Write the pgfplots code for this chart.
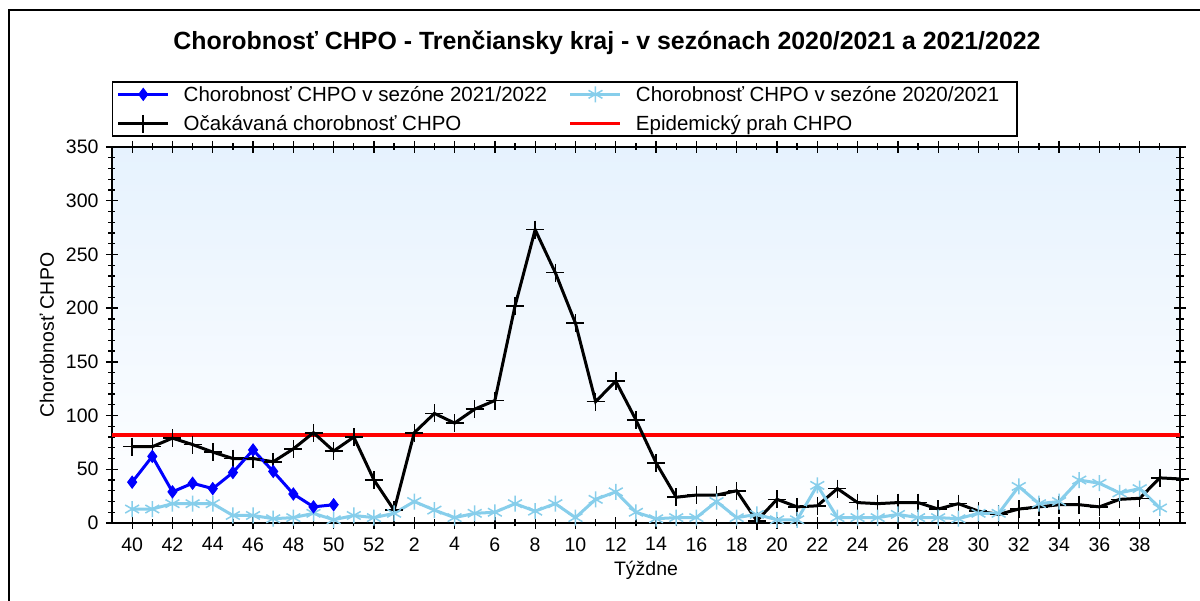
\documentclass[border=0pt]{standalone}
\usepackage{pgfplots}
\usepackage{pgfplotstable}
\pgfplotsset{compat=1.18}
\usepackage{fontspec}
\setmainfont{Liberation Sans}
\definecolor{lblue}{RGB}{135,206,235}
\definecolor{bgtop}{RGB}{230,242,254}

\pgfplotstableread{
i v
0 38
1 62
2 29
3 37
4 32
5 47
6 68
7 48
8 27
9 15
10 17
}\seasonA

\pgfplotstableread{
i v
0 13
1 13
2 18
3 18
4 18
5 7
6 7
7 4
8 5
9 9
10 3
11 7
12 5
13 9
14 20
15 12
16 5
17 9
18 10
19 18
20 11
21 18
22 5
23 22
24 29
25 10
26 4
27 5
28 5
29 20
30 5
31 8
32 3
33 3
34 35
35 5
36 5
37 5
38 8
39 5
40 5
41 4
42 9
43 9
44 34
45 18
46 20
47 40
48 37
49 28
50 32
51 14
}\seasonB

\pgfplotstableread{
i v
0 71
1 71
2 79
3 73
4 66
5 60
6 60
7 57
8 69
9 84
10 67
11 80
12 40
13 12
14 84
15 102
16 93
17 106
18 114
19 202
20 273
21 233
22 186
23 113
24 132
25 96
26 56
27 24
28 26
29 26
30 30
31 2
32 22
33 15
34 16
35 32
36 19
37 18
38 19
39 19
40 13
41 18
42 11
43 8
44 13
45 15
46 17
47 17
48 15
49 22
50 23
51 42
52 41
}\expected

\begin{document}
\begin{tikzpicture}
\begin{axis}[
  at={(0pt,0pt)}, anchor=south west,
  scale only axis, width=1068pt, height=376pt,
  xmin=-1, xmax=52, ymin=0, ymax=350,
  xtick={0,2,...,50},
  xticklabels={40,42,44,46,48,50,52,2,4,6,8,10,12,14,16,18,20,22,24,26,28,30,32,34,36,38},
  minor xtick={1,3,...,51},
  ytick={0,50,...,350},
  minor ytick={10,20,30,40,60,70,80,90,110,120,130,140,160,170,180,190,210,220,230,240,260,270,280,290,310,320,330,340},
  tick align=center,
  major tick length=12pt, minor tick length=7pt,
  tick style={black, line width=1.3pt},
  axis line style={line width=1.6pt},
  axis background/.style={shade, top color=bgtop, bottom color=white},
  /pgf/number format/assume math mode=true,
  ticklabel style={font=\fontsize{19.5}{22}\selectfont},
  xticklabel style={yshift=-5pt},
  yticklabel style={xshift=-4pt},
  xlabel={Týždne},
  ylabel={Chorobnosť CHPO},
  label style={font=\fontsize{19.5}{22}\selectfont},
  xlabel style={at={(axis description cs:0.5,-0.125)}, anchor=center},
  ylabel style={at={(axis description cs:-0.0609,0.5)}, anchor=center},
  legend columns=2,
  legend cell align=left,
  legend style={at={(axis description cs:0,1.0266)}, anchor=south west,
    draw=black, line width=1.5pt, font=\fontsize{20.5}{23}\selectfont,
    inner xsep=4pt, inner ysep=2pt, row sep=9pt,
    /tikz/every odd column/.append style={column sep=12pt},
    /tikz/every even column/.append style={column sep=20pt}},
  legend image code/.code={\draw[mark repeat=2,mark phase=2] plot coordinates {(0pt,0pt) (25pt,0pt) (50pt,0pt)};},
]
\addlegendimage{blue, line width=3pt, mark=diamond*, mark size=6pt, mark options={solid, line width=1pt}}
\addlegendentry{Chorobnosť CHPO v sezóne 2021/2022}
\addlegendimage{lblue, line width=3pt, mark=asterisk, mark size=8pt, mark options={line width=1.5pt}}
\addlegendentry{Chorobnosť CHPO v sezóne 2020/2021\kern12pt\null}
\addlegendimage{black, line width=3pt, mark=+, mark size=9pt, mark options={line width=1.5pt}}
\addlegendentry{Očakávaná chorobnosť CHPO}
\addlegendimage{red, line width=3pt}
\addlegendentry{Epidemický prah CHPO}

\addplot[red, line width=3.5pt, forget plot] coordinates {(-1,82) (52,82)};
\addplot[black, line width=3pt, mark=+, mark size=9pt, mark options={line width=1.5pt}, forget plot] table[x=i,y=v] {\expected};
\addplot[lblue, line width=3pt, mark=asterisk, mark size=8pt, mark options={line width=1.5pt}, forget plot] table[x=i,y=v] {\seasonB};
\addplot[blue, line width=3pt, mark=diamond*, mark size=6pt, mark options={line width=1pt}, forget plot] table[x=i,y=v] {\seasonA};
\end{axis}
\begin{scope}[shift={(-112pt,-78pt)}, x=1pt, y=1pt]
\draw[line width=2.5pt] (9,0) -- (9,591) -- (1200,591);
\node[anchor=base, font=\fontsize{24.9}{28}\selectfont\bfseries] at (607,551)
  {Chorobnosť CHPO - Trenčiansky kraj - v sezónach 2020/2021 a 2021/2022};
\end{scope}
\pgfresetboundingbox
\path[use as bounding box] (-112pt,-78pt) rectangle (1088pt,523pt);
\end{tikzpicture}
\end{document}
